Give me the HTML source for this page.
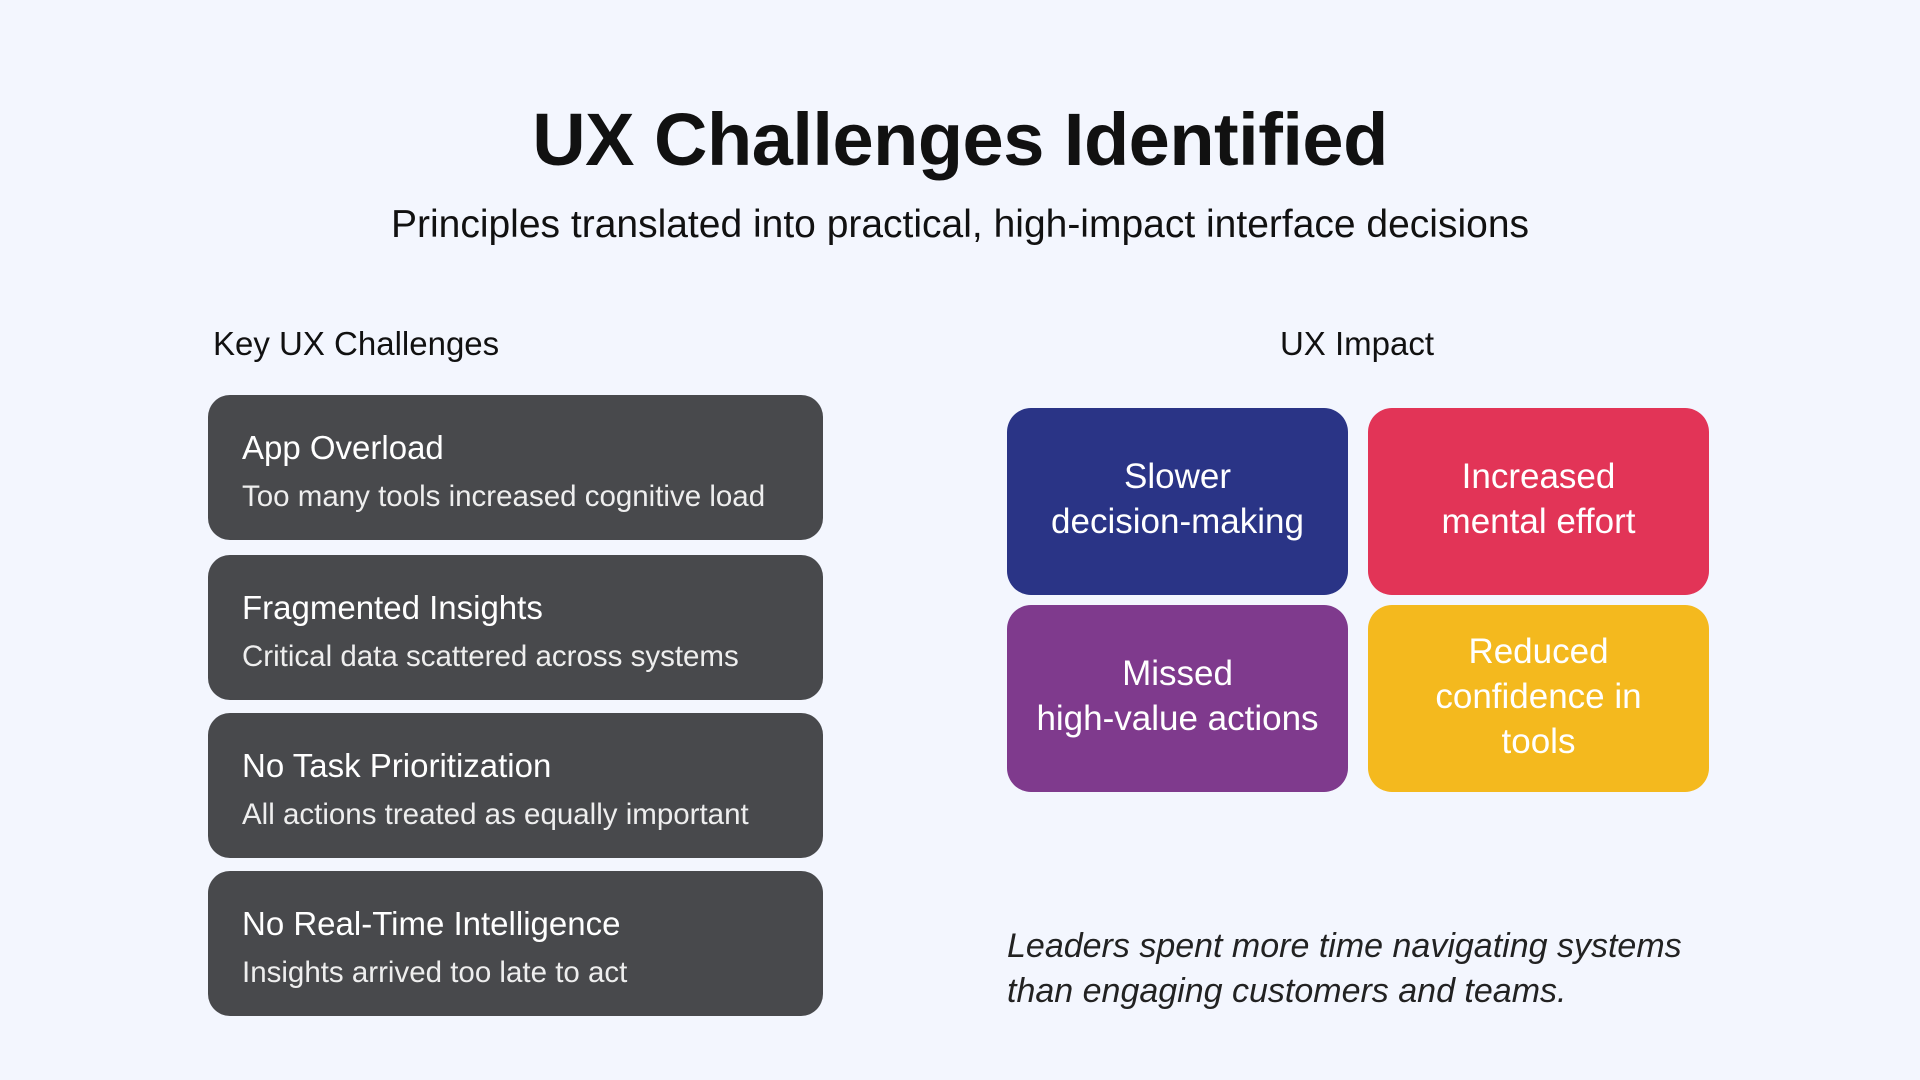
<!DOCTYPE html>
<html><head><meta charset="utf-8"><style>
body{margin:0;width:1920px;height:1080px;background:#f3f6fe;font-family:"Liberation Sans",sans-serif;position:relative;overflow:hidden;color:#111}
.abs{position:absolute}
h1{position:absolute;left:0;width:1920px;top:97px;margin:0;text-align:center;font-size:74px;font-weight:700;letter-spacing:-0.5px}
.sub{left:0;width:1920px;top:203px;text-align:center;font-size:39px}
.hd{font-size:33px;top:325px}
.box{position:absolute;left:208px;width:615px;height:145px;background:#48494c;border-radius:22px;color:#fff}
.box b{position:absolute;left:34px;top:34px;font-size:33px;font-weight:normal;}
.box span{position:absolute;left:34px;top:85px;font-size:29.5px;color:#eee}
.t{position:absolute;width:341px;height:187px;border-radius:24px;color:#fff;display:flex;align-items:center;justify-content:center;text-align:center;font-size:35px;line-height:45px;box-sizing:border-box;padding-bottom:5px}
.q{left:1007px;top:924px;font-size:34px;font-style:italic;line-height:45px;color:#222}
</style></head><body>
<h1>UX Challenges Identified</h1>
<div class="abs sub">Principles translated into practical, high-impact interface decisions</div>
<div class="abs hd" style="left:213px">Key UX Challenges</div>
<div class="abs hd" style="left:1257px;width:200px;text-align:center">UX Impact</div>
<div class="box" style="top:395px"><b>App Overload</b><span>Too many tools increased cognitive load</span></div>
<div class="box" style="top:555px"><b>Fragmented Insights</b><span>Critical data scattered across systems</span></div>
<div class="box" style="top:713px"><b>No Task Prioritization</b><span>All actions treated as equally important</span></div>
<div class="box" style="top:871px"><b>No Real-Time Intelligence</b><span>Insights arrived too late to act</span></div>
<div class="t" style="left:1007px;top:408px;background:#2a3486">Slower<br>decision-making</div>
<div class="t" style="left:1368px;top:408px;background:#e23457">Increased<br>mental effort</div>
<div class="t" style="left:1007px;top:605px;background:#7f3a8d">Missed<br>high-value actions</div>
<div class="t" style="left:1368px;top:605px;background:#f4b91e">Reduced<br>confidence in<br>tools</div>
<div class="abs q">Leaders spent more time navigating systems<br>than engaging customers and teams.</div>
</body></html>
